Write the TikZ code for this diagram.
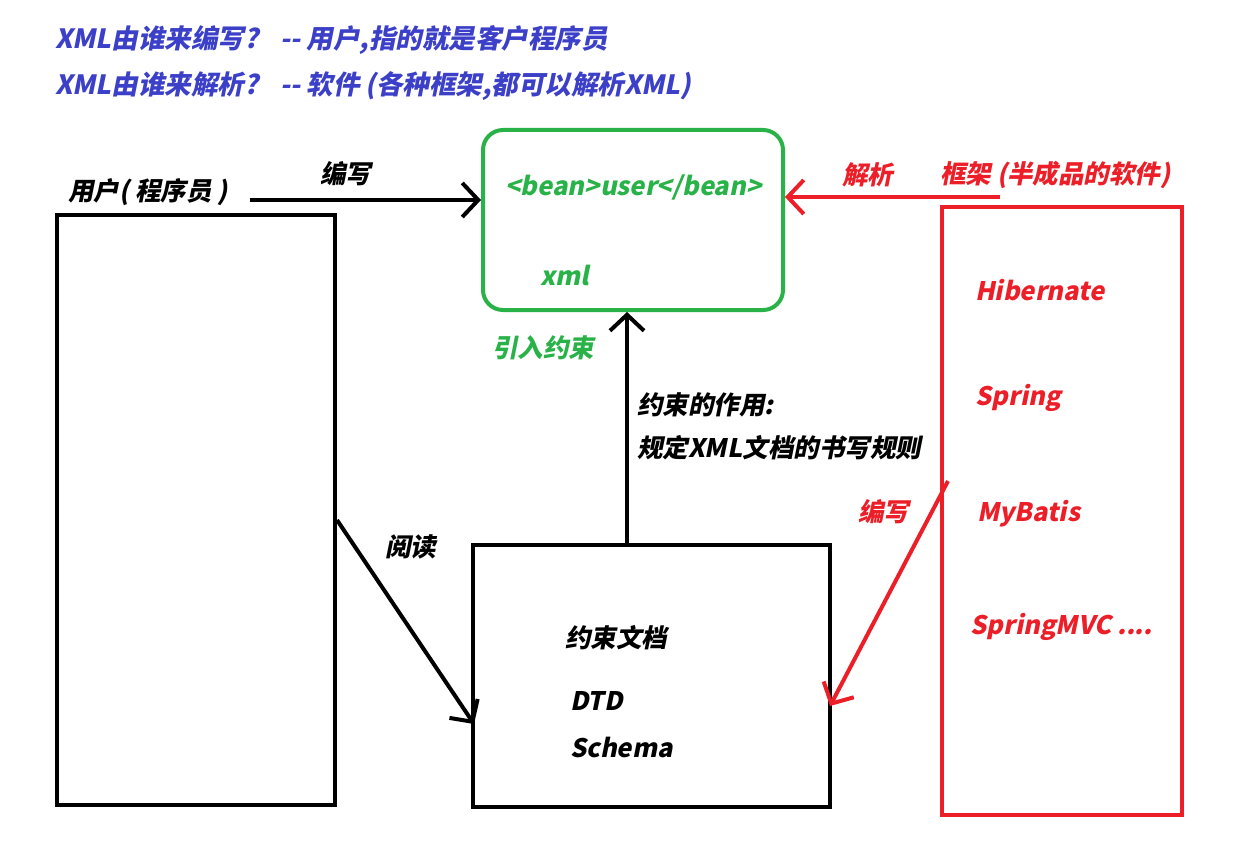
\documentclass[tikz,border=0pt]{standalone}
\usepackage{fontspec}
\usetikzlibrary{arrows.meta}
\newfontfamily\cjk[FakeSlant=0.2]{Noto Sans CJK SC}
\definecolor{qblue}{RGB}{60,64,200}
\definecolor{qgreen}{RGB}{40,178,72}
\definecolor{qred}{RGB}{236,30,40}
\tikzset{
  txt/.style={inner sep=0pt, anchor=west, font=\cjk\bfseries\fontsize{25.5}{29}\selectfont},
  title/.style={txt, text=qblue, font=\cjk\bfseries\fontsize{26.5}{30}\selectfont},
  boxk/.style={draw=black, line width=4pt, inner sep=0pt},
  flow/.style={line width=4pt, -{Straight Barb[length=16pt,width=34pt,line width=4pt]}},
}
\begin{document}
\begin{tikzpicture}[x=1pt,y=-1pt]
\useasboundingbox (0,0) rectangle (1255,853);

% questions at the top
\node[title] (q1) at (55,40) {XML由谁来编写?\hspace{22pt}-- 用户,指的就是客户程序员};
\node[title] (q2) at (55,86) {XML由谁来解析?\hspace{22pt}-- 软件 (各种框架,都可以解析XML)};

% boxes
\node[boxk, minimum width=278pt, minimum height=590pt] (user) at (196,510) {};
\node[draw=qgreen, line width=4pt, rounded corners=20pt, minimum width=300pt, minimum height=180pt, inner sep=0pt] (xmlbox) at (633,220) {};
\node[boxk, minimum width=357pt, minimum height=262pt] (cons) at (651.5,676) {};
\node[draw=qred, line width=4.5pt, minimum width=240pt, minimum height=608pt, inner sep=0pt] (fw) at (1062,511) {};

% user side
\node[txt] (ulbl) at (68,192) {用户( 程序员 )};
\coordinate (ustart) at (250,200);
\draw[flow] (ustart) -- (ustart -| xmlbox.west);
\node[txt] (w1) at (320,174) {编写};

% xml content
\node[txt, text=qgreen] (bean) at (505,187) {<bean>user</bean>};
\node[txt, text=qgreen] (xmlt) at (540,275) {xml};
\node[txt, text=qgreen] (intro) at (492,348) {引入约束};

% constraint document
\coordinate (cup) at (627,545);
\draw[flow] (cup) -- (cup |- xmlbox.south);
\node[txt] (role1) at (637,405) {约束的作用:};
\node[txt] (role2) at (637,448) {规定XML文档的书写规则};
\node[txt] (cdoc) at (565,638) {约束文档};
\node[txt] (dtd) at (570,701) {DTD};
\node[txt] (sch) at (570,747) {Schema};

% reading
\coordinate (rstart) at (337,520);
\coordinate (rend) at (474,724);
\draw[flow] (rstart) -- (rend);
\node[txt] (read) at (385,547) {阅读};

% frameworks
\coordinate (fstart) at (1000,197);
\draw[flow, draw=qred] (fstart) -- (fstart -| xmlbox.east);
\node[txt, text=qred] (parse) at (842,175) {解析};
\node[txt, text=qred] (fwl) at (940,175) {框架 (半成品的软件)};
\node[txt, text=qred] (hib) at (975,290) {Hibernate};
\node[txt, text=qred] (spr) at (975,398) {Spring};
\node[txt, text=qred] (myb) at (977,514) {MyBatis};
\node[txt, text=qred] (smvc) at (970,627) {SpringMVC ....};
\coordinate (wstart) at (948,481);
\coordinate (wend) at (830,706);
\draw[flow, draw=qred] (wstart) -- (wend);
\node[txt, text=qred] (w2) at (858,512) {编写};
\end{tikzpicture}
\end{document}
